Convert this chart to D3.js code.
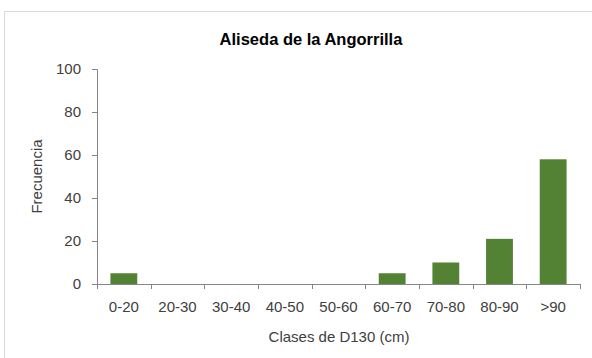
<!DOCTYPE html>
<html><head><meta charset="utf-8">
<script src="https://cdn.jsdelivr.net/npm/d3@7"></script>
<style>body{margin:0;background:#fff}svg{display:block}</style>
</head><body>
<script>
const categories = ["0-20","20-30","30-40","40-50","50-60","60-70","70-80","80-90",">90"];
const frecuencia = [5,0,0,0,0,5,10,21,58];
const yTicks = [0,20,40,60,80,100];
const title = "Aliseda de la Angorrilla";
const xTitle = "Clases de D130 (cm)";
const yTitle = "Frecuencia";

const W=592,H=358;
const svg=d3.select("body").append("svg").attr("width",W).attr("height",H);
svg.append("rect").attr("x",4.5).attr("y",11.5).attr("width",W).attr("height",H)
  .attr("fill","#fff").attr("stroke","#d9d9d9");
const font="'Liberation Sans', Arial, sans-serif";
const x=d3.scaleBand().domain(categories).range([97,580]).paddingInner(0.5).paddingOuter(0.25);
const y=d3.scaleLinear().domain([0,100]).range([284,69]);

// y axis
const ya=svg.append("g").attr("transform","translate(97,0)")
  .call(d3.axisLeft(y).tickValues(yTicks).tickSize(5).tickPadding(11).tickFormat(d3.format("d")));
ya.select(".domain").attr("stroke","#868686").attr("d","M-5,69.5H0.5V284.5");
ya.selectAll(".tick line").attr("stroke","#868686");
ya.selectAll("text").attr("fill","#404040").style("font-family",font).style("font-size","15px");

// bars
svg.append("g").selectAll("rect").data(categories).join("rect")
  .attr("x",d=>x(d)).attr("width",x.bandwidth())
  .attr("y",(d,i)=>y(frecuencia[i])).attr("height",(d,i)=>284-y(frecuencia[i]))
  .attr("fill","#548235");

// x axis
const xa=svg.append("g").attr("transform","translate(0,284)");
xa.append("line").attr("x1",97).attr("x2",580).attr("y1",0.5).attr("y2",0.5).attr("stroke","#868686");
const bounds=d3.range(categories.length+1).map(i=>97+i*(483/categories.length));
xa.selectAll("line.t").data(bounds).join("line").attr("class","t")
  .attr("x1",d=>Math.round(d)+0.5).attr("x2",d=>Math.round(d)+0.5).attr("y1",0).attr("y2",5)
  .attr("stroke","#868686");
xa.selectAll("text").data(categories).join("text")
  .attr("x",d=>x(d)+x.bandwidth()/2).attr("y",28).attr("text-anchor","middle")
  .attr("fill","#404040").style("font-family",font).style("font-size","15px").text(d=>d);

svg.append("text").attr("x",311).attr("y",45).attr("text-anchor","middle")
  .style("font-family",font).style("font-size","16.5px").style("font-weight","bold").attr("fill","#000").text(title);
svg.append("text").attr("x",339).attr("y",342).attr("text-anchor","middle")
  .style("font-family",font).style("font-size","15px").attr("fill","#404040").text(xTitle);
svg.append("text").attr("transform","translate(42,176.5) rotate(-90)").attr("text-anchor","middle")
  .style("font-family",font).style("font-size","15px").attr("fill","#404040").text(yTitle);
</script>
</body></html>
